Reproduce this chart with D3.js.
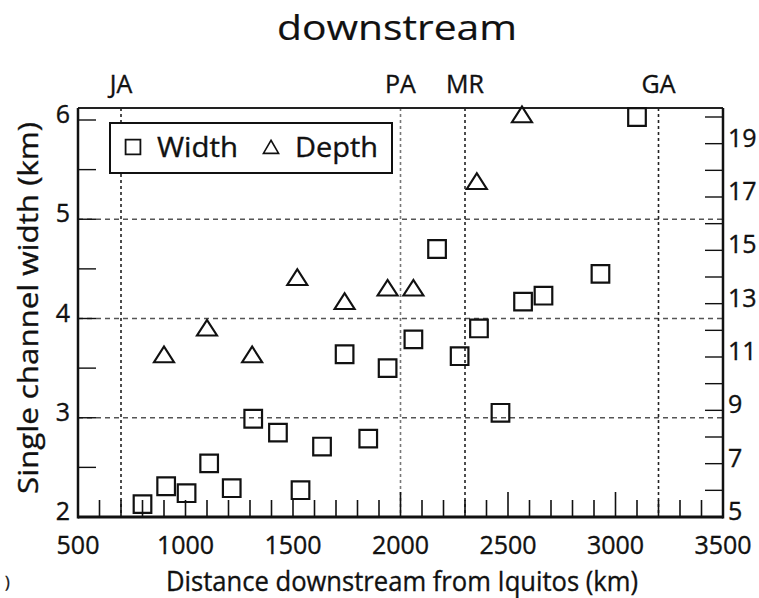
<!DOCTYPE html>
<html><head><meta charset="utf-8">
<script src="https://cdn.jsdelivr.net/npm/d3@7/dist/d3.min.js"></script>
<style>body{margin:0;background:#fff}svg{display:block}text{font-family:"Open Sans","Noto Sans",sans-serif;fill:#111;stroke:#111;stroke-width:0.35px}</style>
</head><body>
<script>
// ---- data ----
const widthDist  = [800, 910, 1005, 1110, 1215, 1315, 1430, 1535, 1635, 1740, 1850, 1940, 2060, 2170, 2275, 2365, 2465, 2570, 2665, 2930, 3100];
const widthKm    = [2.13, 2.31, 2.24, 2.54, 2.29, 2.99, 2.85, 2.27, 2.71, 3.64, 2.79, 3.50, 3.79, 4.70, 3.62, 3.90, 3.05, 4.17, 4.23, 4.45, 6.03];
const depthDist  = [900, 1100, 1310, 1520, 1740, 1940, 2060, 2355, 2565];
const depthM     = [11.0, 12.0, 11.0, 13.9, 13.0, 13.5, 13.5, 17.5, 20.0];
const placeNames = ["JA", "PA", "MR", "GA"];
const placeDist  = [700, 2000, 2300, 3200];
const xTickLabels = [500, 1000, 1500, 2000, 2500, 3000, 3500];
const leftTickLabels = [2, 3, 4, 5, 6];
const rightTickLabels = [5, 7, 9, 11, 13, 15, 17, 19];
const gridWidths = [3, 4, 5];

const W = 759, H = 598;
const L = 78, R = 723, T = 108, B = 517;
const svg = d3.select("body").append("svg").attr("width", W).attr("height", H);

const x = d3.scaleLinear().domain([500, 3500]).range([L, R]);
const yL = d3.scaleLinear().domain([2, 6]).range([B, 120]);
const yR = d3.scaleLinear().domain([5, 20]).range([B, 117]);

// title
svg.append("text").attr("x", 397).attr("y", 40).attr("text-anchor", "middle")
  .attr("font-size", 35).attr("textLength", 240).attr("lengthAdjust", "spacingAndGlyphs")
  .style("stroke-width", "0.2px").text("downstream");

// horizontal grid (dashed)
svg.append("g").selectAll("line").data(gridWidths).join("line")
  .attr("x1", L).attr("x2", R).attr("y1", d => yL(d)).attr("y2", d => yL(d))
  .attr("stroke", "#555").attr("stroke-width", 1.4).attr("stroke-dasharray", "5,4");

// vertical place lines (dotted)
svg.append("g").selectAll("line").data(placeDist).join("line")
  .attr("x1", d => x(d)).attr("x2", d => x(d)).attr("y1", T).attr("y2", B)
  .attr("stroke", (d, i) => i === 1 ? "#777" : "#222").attr("stroke-width", 1.6).attr("stroke-dasharray", "3,3");

svg.append("g").selectAll("text").data(placeNames).join("text")
  .attr("x", (d, i) => x(placeDist[i])).attr("y", 93).attr("text-anchor", "middle")
  .attr("font-size", 25).text(d => d);

// axes ticks (inward)
const xMinor = d3.range(600, 3500, 100);
svg.append("g").selectAll("line").data(xMinor).join("line")
  .attr("x1", d => x(d)).attr("x2", d => x(d)).attr("y1", B).attr("y2", d => (d % 500 === 0 && d >= 2000) ? B - 25 : B - 17)
  .attr("stroke", "#111").attr("stroke-width", 1.6);

const lTicks = d3.range(2.5, 6.01, 0.5);
svg.append("g").selectAll("line").data(lTicks).join("line")
  .attr("x1", L).attr("x2", L + 18).attr("y1", d => yL(d)).attr("y2", d => yL(d))
  .attr("stroke", "#111").attr("stroke-width", 1.4);

const rTicks = d3.range(6, 20.01, 1);
svg.append("g").selectAll("line").data(rTicks).join("line")
  .attr("x1", R).attr("x2", R - 18).attr("y1", d => yR(d)).attr("y2", d => yR(d))
  .attr("stroke", "#111").attr("stroke-width", 1.4);

// frame
svg.append("line").attr("x1", L).attr("x2", R).attr("y1", T).attr("y2", T).attr("stroke", "#222").attr("stroke-width", 2);
svg.append("line").attr("x1", L).attr("x2", L).attr("y1", T).attr("y2", B + 1.5).attr("stroke", "#111").attr("stroke-width", 2.5);
svg.append("line").attr("x1", R).attr("x2", R).attr("y1", T).attr("y2", B + 1.5).attr("stroke", "#111").attr("stroke-width", 2.5);
svg.append("line").attr("x1", L).attr("x2", R).attr("y1", B).attr("y2", B).attr("stroke", "#111").attr("stroke-width", 3);

// tick labels
svg.append("g").selectAll("text").data(xTickLabels).join("text")
  .attr("x", d => x(d)).attr("y", 554).attr("text-anchor", "middle").attr("font-size", 25).text(d => d);
svg.append("g").selectAll("text").data(leftTickLabels).join("text")
  .attr("x", 70).attr("y", d => yL(d) + 3).attr("text-anchor", "end").attr("font-size", 25).text(d => d);
svg.append("g").selectAll("text").data(rightTickLabels).join("text")
  .attr("x", 728).attr("y", d => yR(d) + 3).attr("text-anchor", "start").attr("font-size", 25).text(d => d);

// axis titles
svg.append("text").attr("transform", "translate(38,308) rotate(-90)").attr("text-anchor", "middle")
  .attr("font-size", 28).attr("textLength", 372).attr("lengthAdjust", "spacingAndGlyphs").text("Single channel width (km)");
svg.append("text").attr("x", 402).attr("y", 591).attr("text-anchor", "middle")
  .attr("font-size", 27).attr("textLength", 472).attr("lengthAdjust", "spacingAndGlyphs").text("Distance downstream from Iquitos (km)");

// data marks
const sq = d3.symbol().type(d3.symbolSquare).size(310)();
const tri = d3.symbol().type(d3.symbolTriangle).size(175)();
svg.append("g").selectAll("path").data(widthDist).join("path")
  .attr("d", sq).attr("transform", (d, i) => `translate(${x(d)},${yL(widthKm[i])})`)
  .attr("fill", "none").attr("stroke", "#111").attr("stroke-width", 2.2);
svg.append("g").selectAll("path").data(depthDist).join("path")
  .attr("d", tri).attr("transform", (d, i) => `translate(${x(d)},${yR(depthM[i])}) scale(1,0.9)`)
  .attr("fill", "none").attr("stroke", "#111").attr("stroke-width", 2.2);

// legend
const lg = svg.append("g");
lg.append("rect").attr("x", 110).attr("y", 123).attr("width", 282).attr("height", 50)
  .attr("fill", "#fff").attr("stroke", "#111").attr("stroke-width", 2);
lg.append("path").attr("d", d3.symbol().type(d3.symbolSquare).size(220)()).attr("transform", "translate(133,147)")
  .attr("fill", "none").attr("stroke", "#111").attr("stroke-width", 1.8);
lg.append("text").attr("x", 157).attr("y", 157).attr("font-size", 28).attr("textLength", 81).attr("lengthAdjust", "spacingAndGlyphs").text("Width");
lg.append("path").attr("d", d3.symbol().type(d3.symbolTriangle).size(100)()).attr("transform", "translate(271,149)")
  .attr("fill", "none").attr("stroke", "#111").attr("stroke-width", 1.6);
lg.append("text").attr("x", 295).attr("y", 157).attr("font-size", 28).attr("textLength", 83).attr("lengthAdjust", "spacingAndGlyphs").text("Depth");

// stray mark in lower-left corner of the source
svg.append("text").attr("x", 5).attr("y", 588).attr("font-size", 16).text(")");
</script>
</body></html>
